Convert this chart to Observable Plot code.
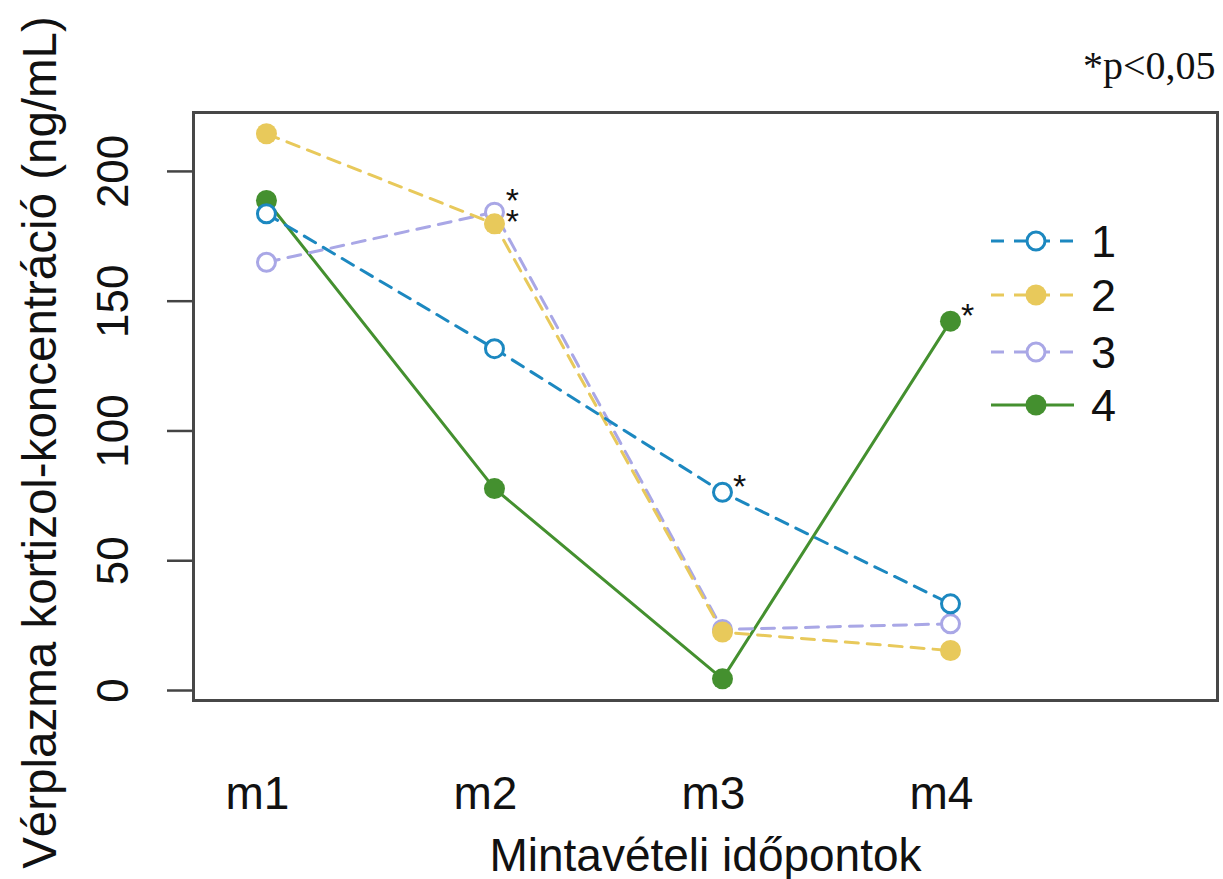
<!DOCTYPE html>
<html><head><meta charset="utf-8">
<script src="https://cdn.jsdelivr.net/npm/d3@7"></script>
<script src="https://cdn.jsdelivr.net/npm/@observablehq/plot@0.6"></script>
<style>
body{margin:0;background:#fff;}
#chart{position:relative;width:1223px;height:879px;font-family:"Liberation Sans",Arial,sans-serif;}
#chart svg{position:absolute;left:0;top:0;}
</style></head><body><div id="chart"></div>
<script>
// ---- data ----
const timepoints = ["m1", "m2", "m3", "m4"];
const seriesNames = ["1", "2", "3", "4"];
const series1 = [183.7, 131.7, 76.4, 33.4];
const series2 = [214.5, 179.8, 22.5, 15.4];
const series3 = [165.0, 184.3, 23.5, 25.7];
const series4 = [188.8, 77.8, 4.5, 142.3];
const yTicks = [0, 50, 100, 150, 200];
const sigSeries = ["3", "2", "1", "4"];
const sigTime = ["m2", "m2", "m3", "m4"];
const yTitle = "Vérplazma kortizol-koncentráció (ng/mL)";
const xTitle = "Mintavételi időpontok";
const pNote = "*p<0,05";

// ---- styles ----
const colors = ["#1c88c0", "#e8c95b", "#a9a7e6", "#44902f"];
const filled = [false, true, false, true];
const dashed = [true, true, true, false];
const FONT = '"Liberation Sans", Arial, sans-serif';

const allSeries = [series1, series2, series3, series4];
const rows = [];
seriesNames.forEach((s, i) => timepoints.forEach((t, j) => rows.push({series: s, t, x: j + 1, y: allSeries[i][j]})));
const sig = sigSeries.map((s, k) => rows.find(r => r.series === s && r.t === sigTime[k]));

const marks = [];
for (let i = 3; i >= 0; i--) {
  const d = rows.filter(r => r.series === seriesNames[i]);
  marks.push(Plot.line(d, {x: "x", y: "y", stroke: colors[i], strokeWidth: 3,
    strokeDasharray: dashed[i] ? "13,9" : null}));
  marks.push(Plot.dot(d, {x: "x", y: "y", r: filled[i] ? 10.5 : 9,
    fill: filled[i] ? colors[i] : "white", stroke: filled[i] ? "none" : colors[i], strokeWidth: 3}));
}
// upper asterisk of the stacked pair at m2 sits a little higher
marks.push(Plot.text(sig.slice(0, 1), {x: "x", y: "y", text: () => "*", dx: 18, dy: -11, fontSize: 34, fill: "#111"}));
marks.push(Plot.text(sig.slice(1, 2), {x: "x", y: "y", text: () => "*", dx: 18, dy: -2, fontSize: 34, fill: "#111"}));
marks.push(Plot.text(sig.slice(2), {x: "x", y: "y", text: () => "*", dx: 17, dy: -5, fontSize: 34, fill: "#111"}));

const W = 1223, H = 879;
const chart = Plot.plot({
  width: W, height: H,
  marginLeft: 193, marginRight: 6, marginTop: 112, marginBottom: 179,
  style: {fontFamily: FONT, background: "white", color: "#111"},
  x: {type: "linear", domain: [0.68, 5.171]},
  y: {domain: [-3.85, 222.7]},
  marks: [
    Plot.axisY({ticks: yTicks, tickSize: 26, tickPadding: 40, tickRotate: -90, fontSize: 44,
      stroke: "#444", strokeWidth: 2.5, label: null}),
    Plot.axisX({ticks: [1, 2, 3, 4], tickFormat: i => timepoints[i - 1], tickSize: 0, tickPadding: 76,
      dx: -9, fontSize: 46, label: null}),
    ...marks,
    Plot.frame({stroke: "#474747", strokeWidth: 3}),
    Plot.text([xTitle], {frameAnchor: "bottom", textAnchor: "middle", lineAnchor: "bottom", dy: 170, fontSize: 46, fill: "#111"}),
    Plot.text([yTitle], {frameAnchor: "left", textAnchor: "middle", lineAnchor: "middle", rotate: -90,
      dx: -153, dy: 36, fontSize: 47.5, fill: "#111"}),
    Plot.text([pNote], {frameAnchor: "top-right", textAnchor: "end", lineAnchor: "bottom", dx: -2, dy: -34,
      fontSize: 40, fontFamily: '"Liberation Serif", "Times New Roman", serif', fill: "#111"})
  ]
});
document.getElementById("chart").appendChild(chart);

// ---- legend overlay ----
const leg = d3.select("#chart").append("svg").attr("width", W).attr("height", H)
  .style("pointer-events", "none");
const rowY = [241, 295, 352, 405];
seriesNames.forEach((s, i) => {
  const g = leg.append("g").attr("transform", `translate(0,${rowY[i]})`);
  g.append("line").attr("x1", 991).attr("x2", 1074).attr("y1", 0).attr("y2", 0)
    .attr("stroke", colors[i]).attr("stroke-width", 3)
    .attr("stroke-dasharray", dashed[i] ? "13,10" : null);
  g.append("circle").attr("cx", 1036).attr("cy", 0).attr("r", filled[i] ? 10.5 : 9)
    .attr("fill", filled[i] ? colors[i] : "white")
    .attr("stroke", filled[i] ? "none" : colors[i]).attr("stroke-width", 3);
  g.append("text").attr("x", 1091).attr("y", 16).attr("font-size", 45)
    .attr("font-family", FONT).attr("fill", "#111").text(s);
});
</script></body></html>
